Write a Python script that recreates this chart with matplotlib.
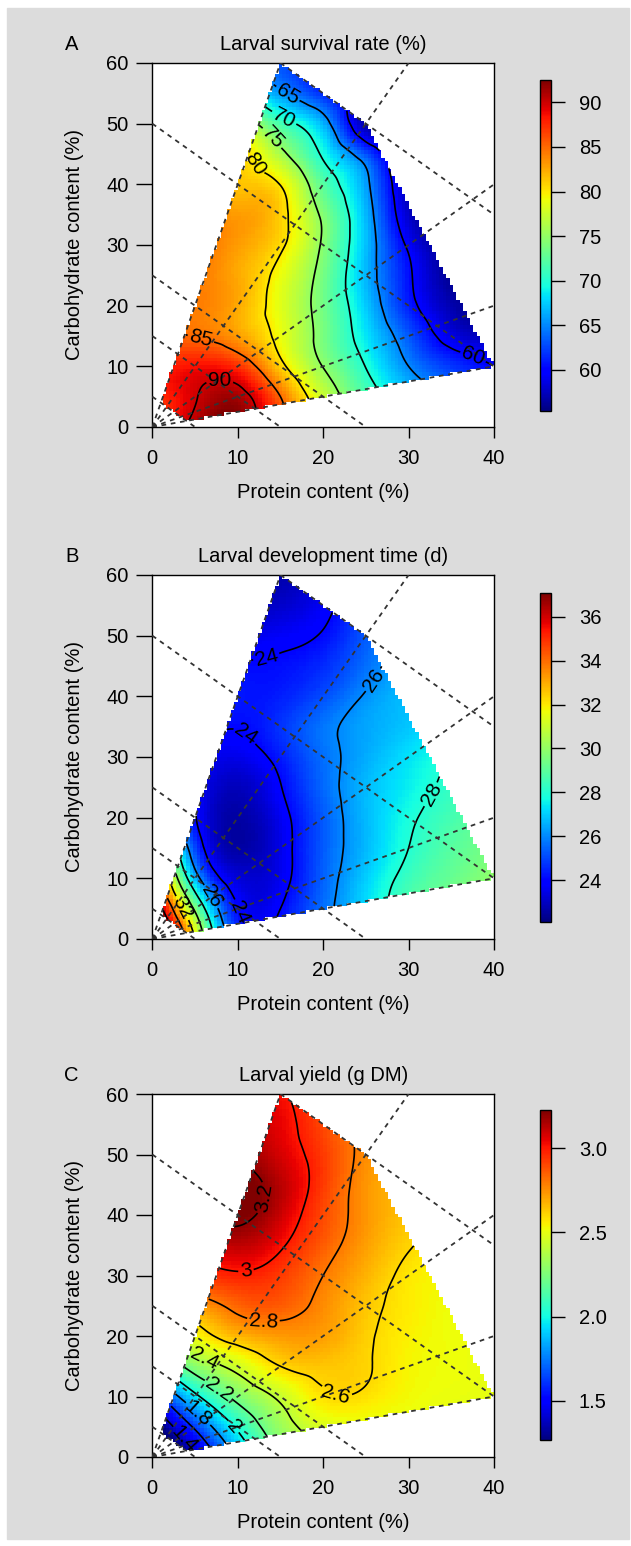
import numpy as np
import matplotlib
matplotlib.use("Agg")
import matplotlib.pyplot as plt
import matplotlib.tri as mtri
from matplotlib.path import Path
from matplotlib.patches import Rectangle
from matplotlib.cm import ScalarMappable
from matplotlib.colors import Normalize

plt.rcParams['font.family'] = ['Liberation Sans', 'DejaVu Sans']

protein = [0, 5, 10, 15, 20, 25, 30, 35, 40]
carb = [0, 5, 10, 15, 20, 25, 30, 35, 40, 45, 50, 55, 60]

# rows = carbohydrate, columns = protein
survival = [
    [86.0, 91.0, 92.0, 85.5, 79.0, 73.5, 68.5, 65.0, 62.0],
    [87.0, 89.8, 91.2, 85.0, 77.5, 71.9, 67.4, 63.5, 61.0],
    [88.0, 88.5, 87.3, 80.9, 74.9, 69.9, 65.0, 62.0, 60.0],
    [86.0, 84.9, 83.0, 79.0, 73.8, 68.4, 63.2, 58.7, 57.0],
    [85.0, 84.3, 82.5, 78.5, 73.5, 67.4, 61.1, 57.0, 55.0],
    [86.0, 84.5, 82.5, 79.0, 73.7, 66.7, 60.5, 56.0, 53.0],
    [86.0, 85.0, 83.0, 80.5, 74.5, 67.0, 59.5, 55.5, 52.0],
    [85.0, 84.0, 83.0, 81.0, 74.3, 66.7, 57.8, 55.0, 52.0],
    [84.0, 83.0, 81.5, 79.9, 72.3, 65.8, 57.0, 54.0, 52.0],
    [84.0, 83.0, 81.3, 76.0, 69.5, 62.9, 56.0, 53.0, 51.0],
    [84.0, 82.0, 78.0, 71.5, 66.5, 56.7, 55.0, 53.0, 51.0],
    [78.0, 74.0, 70.0, 65.6, 61.5, 57.0, 55.0, 53.0, 51.0],
    [72.0, 68.0, 65.5, 63.0, 60.0, 57.0, 55.0, 53.0, 51.0],
]

dev_time = [
    [42.0, 32.0, 25.0, 24.3, 25.8, 27.0, 28.3, 29.3, 30.2],
    [38.0, 29.7, 24.05, 24.0, 25.6, 27.2, 28.7, 29.5, 30.3],
    [36.5, 26.7, 23.3, 23.6, 25.4, 27.0, 28.4, 29.2, 30.0],
    [33.0, 25.0, 22.6, 23.5, 25.3, 26.7, 28.0, 28.9, 29.6],
    [29.0, 24.1, 22.6, 23.6, 25.3, 26.7, 27.8, 28.6, 29.3],
    [26.5, 23.9, 22.9, 23.95, 25.5, 26.7, 27.5, 28.3, 29.0],
    [25.0, 23.9, 23.5, 24.35, 25.6, 26.5, 27.3, 28.0, 28.8],
    [25.5, 24.5, 24.05, 24.7, 25.7, 26.4, 26.9, 27.5, 28.2],
    [26.0, 25.0, 24.3, 24.4, 25.1, 26.1, 26.8, 27.4, 28.0],
    [25.0, 24.5, 24.1, 24.15, 24.6, 25.6, 26.6, 27.4, 28.0],
    [24.5, 23.8, 23.5, 23.7, 24.1, 25.3, 26.4, 27.3, 28.0],
    [23.0, 22.8, 22.8, 23.1, 23.7, 25.0, 26.3, 27.2, 28.0],
    [22.0, 22.2, 22.4, 22.7, 23.3, 24.5, 26.0, 27.0, 28.0],
]

larval_yield = [
    [0.90, 1.35, 1.83, 2.20, 2.38, 2.45, 2.48, 2.50, 2.50],
    [1.17, 1.63, 2.03, 2.32, 2.47, 2.50, 2.50, 2.50, 2.50],
    [1.50, 1.96, 2.25, 2.43, 2.58, 2.58, 2.53, 2.51, 2.50],
    [1.95, 2.28, 2.45, 2.60, 2.64, 2.61, 2.54, 2.52, 2.50],
    [2.30, 2.52, 2.67, 2.73, 2.72, 2.62, 2.55, 2.52, 2.50],
    [2.65, 2.72, 2.84, 2.86, 2.76, 2.64, 2.56, 2.52, 2.50],
    [2.90, 2.93, 2.98, 2.93, 2.80, 2.68, 2.57, 2.53, 2.50],
    [3.00, 3.05, 3.12, 3.02, 2.86, 2.72, 2.61, 2.55, 2.50],
    [3.10, 3.20, 3.24, 3.10, 2.90, 2.74, 2.64, 2.58, 2.55],
    [3.10, 3.20, 3.26, 3.13, 2.93, 2.74, 2.66, 2.60, 2.55],
    [3.10, 3.15, 3.18, 3.08, 2.93, 2.76, 2.68, 2.62, 2.58],
    [3.10, 3.10, 3.10, 3.05, 2.90, 2.76, 2.68, 2.62, 2.58],
    [3.05, 3.05, 3.05, 3.02, 2.88, 2.76, 2.68, 2.62, 2.58],
]

# diet design: P:C ratio lines, total nutrient lines and hull of the diets
ratio_slopes = [4, 2, 1, 0.5, 0.25]
totals = [5, 15, 25, 50, 75]
diet_hull = [(1, 4), (15, 60), (25, 50), (40, 10), (4, 1)]

titles = ["Larval survival rate (%)", "Larval development time (d)", "Larval yield (g DM)"]
letters = ["A", "B", "C"]
surfaces = [survival, dev_time, larval_yield]
color_ranges = [(55.4, 92.5), (22.1, 37.07), (1.266, 3.228)]
contour_levels = [
    [60, 65, 70, 75, 80, 85, 90],
    [24, 26, 28, 30, 32, 34, 36],
    [1.4, 1.6, 1.8, 2.0, 2.2, 2.4, 2.6, 2.8, 3.0, 3.2],
]
cbar_ticks = [
    [60, 65, 70, 75, 80, 85, 90],
    [24, 26, 28, 30, 32, 34, 36],
    [1.5, 2.0, 2.5, 3.0],
]
cbar_fmt = ["{:.0f}", "{:.0f}", "{:.1f}"]
label_spots = [
    [(16.1, 55.5), (15.3, 50.6), (14.15, 47.8), (12.4, 43.7), (5.8, 15.2),
     (7.9, 7.2), (37.5, 11.4)],
    [(13.4, 46.2), (26.2, 42.4), (10.6, 33.1), (32.1, 24.3), (6.9, 7.0),
     (12.0, 5.4), (3.8, 5.3)],
    [(12.2, 43.0), (11.0, 30.4), (13.0, 22.6), (21.6, 10.8), (6.2, 16.6),
     (7.7, 11.1), (5.4, 7.2), (9.5, 5.0), (3.6, 2.8)],
]

W, H = 631, 1546
ax_rects = [
    [152.3 / W, 1 - 427 / H, 341.7 / W, 364 / H],
    [152.3 / W, 1 - 939 / H, 341.7 / W, 364 / H],
    [152.3 / W, 1 - 1457 / H, 341.7 / W, 363 / H],
]
cb_rects = [
    [540 / W, 1 - 411 / H, 11 / W, 331 / H],
    [540 / W, 1 - 921.7 / H, 11 / W, 328.4 / H],
    [540 / W, 1 - 1440 / H, 11 / W, 330 / H],
]

fig = plt.figure(figsize=(W / 100, H / 100), dpi=100)
fig.patches.append(Rectangle((7 / W, 1 - 1539 / H), 622 / W, 1531 / H,
                             transform=fig.transFigure, color="#dcdcdc", zorder=-10))

# triangulated grid for the library's cubic interpolation
Pg, Cg = np.meshgrid(protein, carb)
ncol = len(protein)
triangles = []
for j in range(len(carb) - 1):
    for i in range(ncol - 1):
        k = j * ncol + i
        triangles.append([k, k + 1, k + ncol + 1])
        triangles.append([k, k + ncol + 1, k + ncol])
triang = mtri.Triangulation(Pg.ravel(), Cg.ravel(), triangles)
hull = Path(diet_hull)

xe = np.linspace(0, 40, 101)
ye = np.linspace(0, 60, 101)
xc = (xe[:-1] + xe[1:]) / 2
yc = (ye[:-1] + ye[1:]) / 2
Xc, Yc = np.meshgrid(xc, yc)
in_c = hull.contains_points(np.column_stack([Xc.ravel(), Yc.ravel()])).reshape(Xc.shape)

xs = np.linspace(0, 40, 401)
ys = np.linspace(0, 60, 601)
Xs, Ys = np.meshgrid(xs, ys)
in_s = hull.contains_points(np.column_stack([Xs.ravel(), Ys.ravel()])).reshape(Xs.shape)

for n in range(3):
    ax = fig.add_axes(ax_rects[n])
    z = np.array(surfaces[n]).ravel()
    interp = mtri.CubicTriInterpolator(triang, z, kind="min_E")
    vmin, vmax = color_ranges[n]

    zc = np.ma.masked_where(~in_c, np.asarray(interp(Xc, Yc)))
    ax.pcolormesh(xe, ye, zc, cmap="jet", vmin=vmin, vmax=vmax, shading="flat", zorder=1)

    zs = np.ma.masked_where(~in_s, np.asarray(interp(Xs, Ys)))
    cs = ax.contour(xs, ys, zs, levels=contour_levels[n], colors="black",
                    linewidths=1.2, zorder=3)
    ax.clabel(cs, fmt=lambda v: f"{v:g}", manual=label_spots[n], inline=True,
              fontsize=15, inline_spacing=2)

    for s in ratio_slopes:
        ax.axline((0, 0), slope=s, color="0.2", lw=1.3, dashes=(2.6, 2.6), zorder=4)
    for t in totals:
        ax.axline((0, t), slope=-1, color="0.2", lw=1.3, dashes=(2.6, 2.6), zorder=4)

    ax.set_xlim(0, 40)
    ax.set_ylim(0, 60)
    ax.set_xticks([0, 10, 20, 30, 40])
    ax.set_yticks([0, 10, 20, 30, 40, 50, 60])
    ax.tick_params(axis="x", length=8, width=1, labelsize=14.5, pad=8)
    ax.tick_params(axis="y", length=11.5, width=1, labelsize=14.5, pad=5.5)
    for sp in ax.spines.values():
        sp.set_linewidth(1.0)
    ax.set_xlabel("Protein content (%)", fontsize=14.5, labelpad=11)
    ax.set_ylabel("Carbohydrate content (%)", fontsize=14.5, labelpad=16)
    ax.set_title(titles[n], fontsize=14.5, pad=9.4)
    ax.annotate(letters[n], xy=(0, 1), xycoords="axes fraction", xytext=(-58, 9.4),
                textcoords="offset points", ha="center", va="baseline", fontsize=14.5)

    cax = fig.add_axes(cb_rects[n])
    cb = fig.colorbar(ScalarMappable(Normalize(vmin, vmax), "jet"), cax=cax)
    cb.set_ticks(cbar_ticks[n])
    cb.set_ticklabels([cbar_fmt[n].format(v) for v in cbar_ticks[n]])
    cb.outline.set_linewidth(1.0)
    cax.tick_params(length=10, width=1, labelsize=14.5, pad=10)

fig.savefig("out.png", dpi=100, facecolor="white")
